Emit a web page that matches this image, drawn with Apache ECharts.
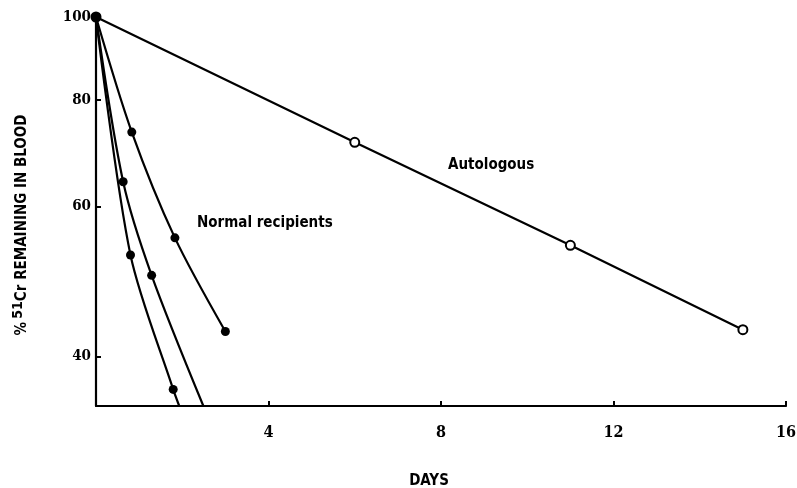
<!DOCTYPE html>
<html>
<head>
<meta charset="utf-8">
<script src="https://cdn.jsdelivr.net/npm/echarts@6/dist/echarts.min.js"></script>
<style>
html,body{margin:0;padding:0;background:#fff;}
#chart{width:797px;height:488px;}
</style>
</head>
<body>
<div id="chart"></div>
<script>
// Data (days, % 51Cr remaining)
const autoDays = [0, 6, 11, 15];
const autoVals = [100, 71.3, 54.0, 43.0];

const recipADays = [0, 0.83, 1.83, 3.0];
const recipAVals = [100, 73.3, 55.1, 42.8];

const recipBDays = [0, 0.63, 1.29, 2.49];
const recipBVals = [100, 64.1, 49.8, 35];

const recipCDays = [0, 0.80, 1.79, 1.93];
const recipCVals = [100, 52.6, 36.6, 35];

const xTicks = [0, 4, 8, 12, 16];
const yLabelValues = [40, 60, 80, 100];
const yTickValues = [40, 60, 80];

const yMin = 35, yMax = 100;

const sansFont = '"DejaVu Sans Condensed", "Liberation Sans Narrow", "DejaVu Sans", sans-serif';
const serifFont = '"DejaVu Serif Condensed", "DejaVu Serif", "Liberation Serif", serif';

function pts(days, vals) {
  return days.map((d, i) => ({
    value: [d, vals[i]],
    symbolSize: vals[i] <= yMin ? 0 : 9
  }));
}

function recipSeries(name, days, vals) {
  return {
    name: name,
    type: 'line',
    smooth: 0.3,
    data: pts(days, vals),
    symbol: 'circle',
    itemStyle: { color: '#000' },
    lineStyle: { color: '#000', width: 2.2 },
    z: 3
  };
}

const chart = echarts.init(document.getElementById('chart'));
chart.setOption({
  animation: false,
  backgroundColor: '#fff',
  grid: { left: 96, right: 11, top: 17, bottom: 82, containLabel: false, outerBoundsMode: 'none' },
  xAxis: {
    type: 'value',
    min: xTicks[0],
    max: xTicks[xTicks.length - 1],
    interval: 4,
    name: 'DAYS',
    nameLocation: 'middle',
    nameGap: 68,
    nameTextStyle: { fontFamily: sansFont, fontWeight: 'bold', fontSize: 15, color: '#000', padding: [0, 24, 0, 0] },
    axisLine: { show: true, lineStyle: { color: '#000', width: 2.2 } },
    axisTick: { show: true, inside: true, length: 5, lineStyle: { color: '#000', width: 2 } },
    axisLabel: {
      margin: 19,
      fontFamily: serifFont, fontWeight: 'bold', fontSize: 16, color: '#000',
      formatter: v => (v === 0 ? '' : String(v))
    },
    splitLine: { show: false }
  },
  yAxis: {
    type: 'log',
    logBase: 10,
    min: yMin,
    max: yMax,
    name: '{p|%} {sup|51}{t|Cr REMAINING IN BLOOD}',
    nameLocation: 'middle',
    nameGap: 63,
    nameRotate: 90,
    nameTextStyle: {
      padding: [0, 0, 0, -27],
      rich: {
        p: { fontFamily: sansFont, fontWeight: 'bold', fontSize: 15, color: '#000' },
        sup: { fontFamily: sansFont, fontWeight: 'bold', fontSize: 14, color: '#000', verticalAlign: 'top', padding: [0, 0, 8, 0] },
        t: { fontFamily: sansFont, fontWeight: 'bold', fontSize: 15, color: '#000' }
      }
    },
    axisLine: { show: true, lineStyle: { color: '#000', width: 2.2 } },
    axisTick: { show: true, inside: true, length: 5, customValues: yTickValues, lineStyle: { color: '#000', width: 2 } },
    axisLabel: {
      margin: 5,
      customValues: yLabelValues,
      fontFamily: serifFont, fontWeight: 'bold', fontSize: 15, color: '#000'
    },
    splitLine: { show: false },
    minorTick: { show: false }
  },
  graphic: [
    { type: 'text', left: 197, top: 216, style: { text: 'Normal recipients', font: 'bold 15px ' + sansFont, fill: '#000' } },
    { type: 'text', left: 448, top: 158, style: { text: 'Autologous', font: 'bold 15px ' + sansFont, fill: '#000' } }
  ],
  series: [
    {
      name: 'Autologous',
      type: 'line',
      data: autoDays.map((d, i) => [d, autoVals[i]]),
      symbol: 'circle',
      symbolSize: 9,
      itemStyle: { color: '#fff', borderColor: '#000', borderWidth: 2 },
      lineStyle: { color: '#000', width: 2.2 },
      z: 2
    },
    recipSeries('Normal recipients A', recipADays, recipAVals),
    recipSeries('Normal recipients B', recipBDays, recipBVals),
    recipSeries('Normal recipients C', recipCDays, recipCVals)
  ]
});
</script>
</body>
</html>
